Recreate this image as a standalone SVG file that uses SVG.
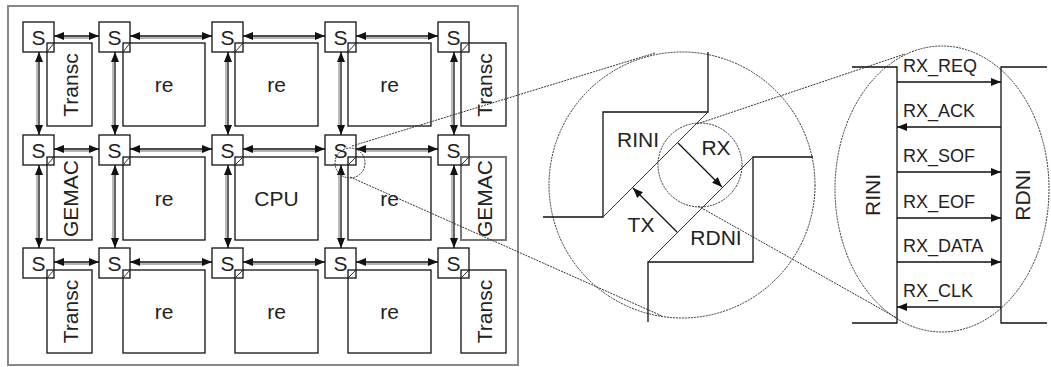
<svg xmlns="http://www.w3.org/2000/svg" width="1051" height="367" viewBox="0 0 1051 367">
<style>
.bx{fill:#fff;stroke:#111;stroke-width:1.3}
.gb{fill:#fff;stroke:#777;stroke-width:2}
.ln{fill:none;stroke:#111;stroke-width:1.3}
.gl{fill:none;stroke:#999;stroke-width:1.3}
.mg{fill:none;stroke:#333;stroke-width:1;stroke-dasharray:2 1}
.dg{fill:none;stroke:#333;stroke-width:1}
.t{font-family:"Liberation Sans",Arial,sans-serif;font-size:21px;fill:#222;text-anchor:middle}
.s{font-family:"Liberation Sans",Arial,sans-serif;font-size:21px;fill:#222;text-anchor:middle}
.sig{font-family:"Liberation Sans",Arial,sans-serif;font-size:18px;fill:#222}
.a{marker-start:url(#ah);marker-end:url(#ah)}
.sa{marker-end:url(#sh)}
</style>
<defs>
<marker id="ah" viewBox="0 0 10 8" refX="10" refY="4" markerWidth="10" markerHeight="8" markerUnits="userSpaceOnUse" orient="auto-start-reverse"><path d="M0,0 L10,4 L0,8 z" fill="#111"/></marker>
<marker id="sh" viewBox="0 0 10 8" refX="10" refY="4" markerWidth="10" markerHeight="8" markerUnits="userSpaceOnUse" orient="auto"><path d="M0,0 L10,4 L0,8 z" fill="#111"/></marker>
</defs>
<rect x="8" y="6" width="510" height="359" fill="#fff" stroke="#888" stroke-width="2"/>

<g id="modules">
<g id="m11"><rect class="bx" x="47" y="43" width="45" height="83"/><text class="t" transform="translate(77.5,85) rotate(-90)">Transc</text></g>
<g id="m12"><rect class="bx" x="123" y="43" width="82" height="83"/><text class="t" x="164" y="92">re</text></g>
<g id="m13"><rect class="bx" x="235" y="43" width="83" height="83"/><text class="t" x="276.5" y="92">re</text></g>
<g id="m14"><rect class="bx" x="348" y="43" width="83" height="83"/><text class="t" x="389.5" y="92">re</text></g>
<g id="m15"><rect class="bx" x="461" y="43" width="45" height="83"/><text class="t" transform="translate(491.5,85) rotate(-90)">Transc</text></g>

<g id="m21"><rect class="bx" x="47" y="157" width="45" height="83"/><text class="t" transform="translate(77.5,198.5) rotate(-90)">GEMAC</text></g>
<g id="m22"><rect class="bx" x="123" y="157" width="82" height="83"/><text class="t" x="164" y="206">re</text></g>
<g id="m23"><rect class="bx" x="235" y="157" width="83" height="83"/><text class="t" x="276.5" y="206">CPU</text></g>
<g id="m24"><rect class="bx" x="348" y="157" width="83" height="83"/><text class="t" x="389.5" y="206">re</text></g>
<g id="m25"><rect class="gb" x="461" y="157" width="45" height="83"/><text class="t" transform="translate(491.5,198.5) rotate(-90)">GEMAC</text></g>

<g id="m31"><rect class="bx" x="47" y="270" width="45" height="83"/><text class="t" transform="translate(77.5,311.5) rotate(-90)">Transc</text></g>
<g id="m32"><rect class="bx" x="123" y="270" width="82" height="83"/><text class="t" x="164" y="319">re</text></g>
<g id="m33"><rect class="bx" x="235" y="270" width="83" height="83"/><text class="t" x="276.5" y="319">re</text></g>
<g id="m34"><rect class="bx" x="348" y="270" width="83" height="83"/><text class="t" x="389.5" y="319">re</text></g>
<g id="m35"><rect class="bx" x="461" y="270" width="45" height="83"/><text class="t" transform="translate(491.5,311.5) rotate(-90)">Transc</text></g>
</g>

<g id="switches">
<g id="s11"><rect class="bx" x="23" y="22" width="31" height="30" fill-opacity="0"/><text class="s" x="38.5" y="44.5">S</text><line class="dg" x1="47" y1="52" x2="54" y2="43"/></g>
<g id="s12"><rect class="bx" x="99" y="22" width="31" height="30" fill-opacity="0"/><text class="s" x="114.5" y="44.5">S</text><line class="dg" x1="123" y1="52" x2="130" y2="43"/></g>
<g id="s13"><rect class="bx" x="212" y="22" width="31" height="30" fill-opacity="0"/><text class="s" x="227.5" y="44.5">S</text><line class="dg" x1="235" y1="52" x2="243" y2="43"/></g>
<g id="s14"><rect class="bx" x="325" y="22" width="31" height="30" fill-opacity="0"/><text class="s" x="340.5" y="44.5">S</text><line class="dg" x1="348" y1="52" x2="356" y2="43"/></g>
<g id="s15"><rect class="bx" x="438" y="22" width="31" height="30" fill-opacity="0"/><text class="s" x="453.5" y="44.5">S</text><line class="dg" x1="461" y1="52" x2="469" y2="43"/></g>

<g id="s21"><rect class="bx" x="23" y="135" width="31" height="30" fill-opacity="0"/><text class="s" x="38.5" y="157.5">S</text><line class="dg" x1="47" y1="165" x2="54" y2="157"/></g>
<g id="s22"><rect class="bx" x="99" y="135" width="31" height="30" fill-opacity="0"/><text class="s" x="114.5" y="157.5">S</text><line class="dg" x1="123" y1="165" x2="130" y2="157"/></g>
<g id="s23"><rect class="bx" x="212" y="135" width="31" height="30" fill-opacity="0"/><text class="s" x="227.5" y="157.5">S</text><line class="dg" x1="235" y1="165" x2="243" y2="157"/></g>
<g id="s24"><rect class="bx" x="325" y="135" width="31" height="30" fill-opacity="0"/><text class="s" x="340.5" y="157.5">S</text><line class="dg" x1="348" y1="165" x2="356" y2="157"/></g>
<g id="s25"><rect class="bx" x="438" y="135" width="31" height="30" fill-opacity="0"/><text class="s" x="453.5" y="157.5">S</text><line class="dg" x1="461" y1="165" x2="469" y2="157"/></g>

<g id="s31"><rect class="bx" x="23" y="248" width="31" height="30" fill-opacity="0"/><text class="s" x="38.5" y="270.5">S</text><line class="dg" x1="47" y1="278" x2="54" y2="270"/></g>
<g id="s32"><rect class="bx" x="99" y="248" width="31" height="30" fill-opacity="0"/><text class="s" x="114.5" y="270.5">S</text><line class="dg" x1="123" y1="278" x2="130" y2="270"/></g>
<g id="s33"><rect class="bx" x="212" y="248" width="31" height="30" fill-opacity="0"/><text class="s" x="227.5" y="270.5">S</text><line class="dg" x1="235" y1="278" x2="243" y2="270"/></g>
<g id="s34"><rect class="bx" x="325" y="248" width="31" height="30" fill-opacity="0"/><text class="s" x="340.5" y="270.5">S</text><line class="dg" x1="348" y1="278" x2="356" y2="270"/></g>
<g id="s35"><rect class="bx" x="438" y="248" width="31" height="30" fill-opacity="0"/><text class="s" x="453.5" y="270.5">S</text><line class="dg" x1="461" y1="278" x2="469" y2="270"/></g>
</g>

<g id="connectors">
<path class="gl" d="M63,38H90 M139,38H203 M252,38H316 M365,38H429 M63,151H90 M139,151H203 M252,151H316 M365,151H429 M63,264H90 M139,264H203 M252,264H316 M365,264H429"/>
<path class="gl" d="M37,61V126 M113,61V126 M226,61V126 M339,61V126 M452,61V126 M37,174V239 M113,174V239 M226,174V239 M339,174V239 M452,174V239"/>
<line class="ln a" x1="54" y1="36" x2="99" y2="36"/>
<line class="ln a" x1="130" y1="36" x2="212" y2="36"/>
<line class="ln a" x1="243" y1="36" x2="325" y2="36"/>
<line class="ln a" x1="356" y1="36" x2="438" y2="36"/>
<line class="ln a" x1="54" y1="149" x2="99" y2="149"/>
<line class="ln a" x1="130" y1="149" x2="212" y2="149"/>
<line class="ln a" x1="243" y1="149" x2="325" y2="149"/>
<line class="ln a" x1="356" y1="149" x2="438" y2="149"/>
<line class="ln a" x1="54" y1="262" x2="99" y2="262"/>
<line class="ln a" x1="130" y1="262" x2="212" y2="262"/>
<line class="ln a" x1="243" y1="262" x2="325" y2="262"/>
<line class="ln a" x1="356" y1="262" x2="438" y2="262"/>
<line class="ln a" x1="39" y1="52" x2="39" y2="135"/>
<line class="ln a" x1="115" y1="52" x2="115" y2="135"/>
<line class="ln a" x1="228" y1="52" x2="228" y2="135"/>
<line class="ln a" x1="341" y1="52" x2="341" y2="135"/>
<line class="ln a" x1="454" y1="52" x2="454" y2="135"/>
<line class="ln a" x1="39" y1="165" x2="39" y2="248"/>
<line class="ln a" x1="115" y1="165" x2="115" y2="248"/>
<line class="ln a" x1="228" y1="165" x2="228" y2="248"/>
<line class="ln a" x1="341" y1="165" x2="341" y2="248"/>
<line class="ln a" x1="454" y1="165" x2="454" y2="248"/>
</g>

<g id="magnify">
<circle class="mg" cx="350" cy="163" r="15"/>
<line class="mg" x1="352" y1="146" x2="655" y2="53"/>
<line class="mg" x1="350" y1="177" x2="662" y2="316"/>
<circle class="mg" cx="682" cy="185" r="133"/>
<circle class="mg" cx="700" cy="165" r="42"/>
<line class="mg" x1="697" y1="124" x2="905" y2="54"/>
<line class="mg" x1="698" y1="206" x2="897" y2="318"/>
<ellipse class="mg" cx="942" cy="189" rx="107" ry="143"/>
</g>

<g id="router-detail">
<g id="rini">
<path class="ln" d="M543,217H603V112H708V52"/>
<line class="dg" x1="603" y1="217" x2="708" y2="112"/>
<text class="t" x="638" y="147">RINI</text>
</g>
<g id="rdni">
<path class="ln" d="M813,157H753V262H648V322"/>
<line class="dg" x1="648" y1="262" x2="753" y2="157"/>
<text class="t" x="716" y="245">RDNI</text>
</g>
<line class="ln sa" x1="678" y1="143" x2="722" y2="187"/>
<text class="t" x="716" y="155">RX</text>
<line class="ln sa" x1="677" y1="232" x2="633" y2="188"/>
<text class="t" x="641" y="232">TX</text>
</g>

<g id="link-detail">
<path class="ln" d="M852,67H897V323H852 M1047,67H1001V323H1047"/>
<text class="t" transform="translate(880,195) rotate(-90)">RINI</text>
<text class="t" transform="translate(1030,195) rotate(-90)">RDNI</text>
<line class="ln sa" x1="897" y1="82" x2="1001" y2="82"/>
<line class="ln sa" x1="1001" y1="127" x2="897" y2="127"/>
<line class="ln sa" x1="897" y1="172" x2="1001" y2="172"/>
<line class="ln sa" x1="897" y1="218" x2="1001" y2="218"/>
<line class="ln sa" x1="897" y1="262" x2="1001" y2="262"/>
<line class="ln sa" x1="1001" y1="307" x2="897" y2="307"/>
<text class="sig" x="903" y="72">RX_REQ</text>
<text class="sig" x="903" y="117">RX_ACK</text>
<text class="sig" x="903" y="162">RX_SOF</text>
<text class="sig" x="903" y="208">RX_EOF</text>
<text class="sig" x="903" y="252">RX_DATA</text>
<text class="sig" x="903" y="297">RX_CLK</text>
</g>
</svg>
